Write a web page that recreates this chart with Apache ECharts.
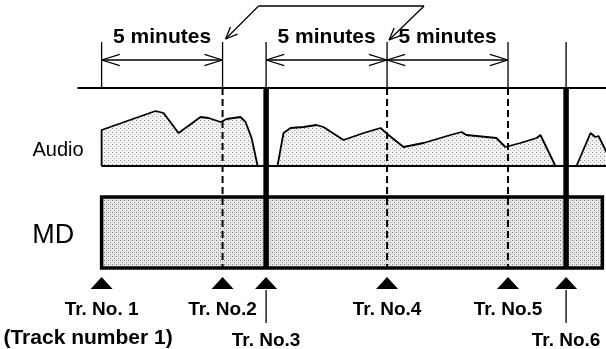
<!DOCTYPE html>
<html>
<head>
<meta charset="utf-8">
<script src="https://cdn.jsdelivr.net/npm/echarts@6/dist/echarts.min.js"></script>
<style>
  html, body { margin: 0; background: #fff; }
  #chart { width: 606px; height: 349px; }
</style>
</head>
<body>
<div id="chart"></div>
<script>
// track marks, minutes from the start of the recording
const trackTimes = [0, 5, 6.8, 11.8, 16.8, 19.2];
// start = first mark, auto = split after 5 minutes, blank = split at a silent gap
const trackKinds = ["start", "auto", "blank", "auto", "auto", "blank"];
const trackLabels = ["Tr. No. 1", "Tr. No.2", "Tr. No.3", "Tr. No.4", "Tr. No.5", "Tr. No.6"];

// the 5 minute spans shown above the timeline
const spanStarts = [0, 6.8, 11.8];
const spanEnds = [5, 11.8, 16.8];
const spanLabels = ["5 minutes", "5 minutes", "5 minutes"];

// the marks that the callout at the top points to
const calloutTracks = [1, 3];

// audio level envelope
const waveTimes = [0, 0, 2.23, 2.56, 3.18, 4.09, 4.42, 4.92, 5.17, 5.45, 5.74, 5.95, 6.2, 6.45,
  7.27, 7.52, 7.81, 8.35, 8.88, 9.17, 10.0, 10.83, 11.53, 11.86, 12.48, 13.31, 14.42, 14.88,
  15.08, 16.32, 16.69, 17.31, 17.98, 18.14, 18.76, 19.63, 20.21, 20.41, 20.54, 20.87];
const waveLevels = [0, 36, 55, 53, 33, 49, 48, 44, 47, 48, 49, 44, 28, 0,
  0, 33, 38, 39, 41, 39, 26, 33, 38, 31, 19, 23, 31, 34,
  31, 28, 19, 23, 28, 31, 0, 0, 33, 29, 30, 14];

const discEnd = 20.7;
const rowLabels = ["Audio", "MD"];
const noteLabel = "(Track number 1)";

// layout levels on the y axis (audio baseline = 0)
const LV = {
  timeline: 78, tick: 124, dim: 106, spanText: 129,
  mdTop: -31, mdBottom: -102, marker: -117,
  label: -144, labelLow: -175, leaderTop: -124, leaderBottom: -157,
  audioRow: 16, mdRow: -70, note: -172
};
const X = { lineStart: -1.0, lineEnd: 20.85, rowText: -1.8, mdText: -2.0, note: -0.56 };

const ink = "#000";
const font = "Liberation Sans";

// stipple screen like the printed original
function stipple(bg, dots) {
  const c = document.createElement("canvas");
  c.width = 4;
  c.height = 4;
  const g = c.getContext("2d");
  g.fillStyle = bg;
  g.fillRect(0, 0, 4, 4);
  dots.forEach(([x, y, col]) => {
    g.fillStyle = col;
    g.fillRect(x, y, 1, 1);
  });
  return {image: c, repeat: "repeat"};
}
const audioFill = stipple("#f2f2f2", [[0, 0, "#8a8a8a"], [2, 2, "#b4b4b4"]]);
const discFill = stipple("#e6e6e6", [[0, 0, "#7a7a7a"], [2, 2, "#9a9a9a"], [2, 0, "#c4c4c4"]]);

const chart = echarts.init(document.getElementById("chart"));

function seg(p, q, w, dash) {
  return {
    type: "line",
    shape: {x1: p[0], y1: p[1], x2: q[0], y2: q[1]},
    style: {stroke: ink, lineWidth: w, lineDash: dash || null, fill: null}
  };
}

function openHead(tip, from, len, spread) {
  const dx = from[0] - tip[0], dy = from[1] - tip[1];
  const d = Math.hypot(dx, dy);
  const ux = dx / d, uy = dy / d;
  const out = [];
  [spread, -spread].forEach(a => {
    const c = Math.cos(a), s = Math.sin(a);
    out.push(seg(tip, [tip[0] + len * (ux * c - uy * s), tip[1] + len * (ux * s + uy * c)], 1.3));
  });
  return out;
}

const option = {
  animation: false,
  grid: {left: 0, right: 0, top: 0, bottom: 0},
  xAxis: {type: "value", min: -4.2, max: 20.85, show: false},
  yAxis: {type: "value", min: -183, max: 166, show: false},
  series: [
    {
      // MD disc strip
      type: "custom",
      z: 1,
      data: [[0, discEnd]],
      renderItem(params, api) {
        const a = api.coord([api.value(0), LV.mdTop]);
        const b = api.coord([api.value(1), LV.mdBottom]);
        return {
          type: "rect",
          shape: {x: a[0], y: a[1], width: b[0] - a[0], height: b[1] - a[1]},
          style: {fill: discFill, stroke: ink, lineWidth: 3.5}
        };
      }
    },
    {
      // audio envelope
      type: "line",
      z: 2,
      data: waveTimes.map((t, i) => [t, waveLevels[i]]),
      showSymbol: false,
      lineStyle: {color: ink, width: 1.8},
      areaStyle: {color: audioFill, opacity: 1}
    },
    {
      // audio baseline and timeline
      type: "line",
      z: 3,
      data: [[waveTimes[0], 0], [waveTimes[waveTimes.length - 1], 0], null,
        [X.lineStart, LV.timeline], [X.lineEnd, LV.timeline]],
      connectNulls: false,
      showSymbol: false,
      lineStyle: {color: ink, width: 2}
    },
    {
      // track marks: ticks, split lines, leaders
      type: "custom",
      z: 4,
      data: trackTimes.map((t, i) => [t, i]),
      renderItem(params, api) {
        const t = api.value(0);
        const kind = trackKinds[api.value(1)];
        const top = api.coord([t, LV.tick]);
        const mid = api.coord([t, LV.timeline]);
        const bot = api.coord([t, LV.mdBottom]);
        const children = [seg(top, mid, 1.3)];
        if (kind === "auto") children.push(seg(mid, bot, 2, [7, 4]));
        if (kind === "blank") {
          children.push(seg(mid, bot, 5.5));
          children.push(seg(api.coord([t, LV.leaderTop]), api.coord([t, LV.leaderBottom]), 1.3));
        }
        return {type: "group", children};
      }
    },
    {
      // 5 minute dimension arrows
      type: "custom",
      z: 5,
      data: spanStarts.map((s, i) => [s, spanEnds[i], i]),
      renderItem(params, api) {
        const a = api.coord([api.value(0), LV.dim]);
        const b = api.coord([api.value(1), LV.dim]);
        const c = api.coord([(api.value(0) + api.value(1)) / 2, LV.spanText]);
        const children = [seg(a, b, 1.3)]
          .concat(openHead(a, b, 19, 0.3))
          .concat(openHead(b, a, 19, 0.3));
        children.push({
          type: "text",
          x: c[0], y: c[1],
          style: {
            text: spanLabels[api.value(2)], fill: ink, font: `bold 21px "${font}"`,
            align: "center", verticalAlign: "middle"
          }
        });
        return {type: "group", children};
      }
    },
    {
      // callout pointing at the automatic splits
      type: "custom",
      z: 5,
      data: [calloutTracks.map(i => trackTimes[i])],
      renderItem(params, api) {
        const t1 = api.coord([api.value(0), LV.tick]);
        const t2 = api.coord([api.value(1), LV.tick]);
        const tip1 = [t1[0] + 3, t1[1] - 3];
        const tip2 = [t2[0] + 2, t2[1] - 2];
        const top1 = [tip1[0] + 33, 6];
        const top2 = [tip2[0] + 35, 6];
        const children = [seg(top1, top2, 1.3), seg(top1, tip1, 1.3), seg(top2, tip2, 1.3)]
          .concat(openHead(tip1, top1, 13, 0.4))
          .concat(openHead(tip2, top2, 13, 0.4));
        return {type: "group", children};
      }
    },
    {
      // track mark triangles
      type: "scatter",
      z: 6,
      data: trackTimes.map(t => [t, LV.marker]),
      symbol: "triangle",
      symbolSize: [22, 12],
      itemStyle: {color: ink, opacity: 1}
    },
    {
      // track labels
      type: "scatter",
      z: 6,
      symbolSize: 0,
      itemStyle: {opacity: 1},
      data: trackTimes.map((t, i) => ({
        value: [t, trackKinds[i] === "blank" ? LV.labelLow : LV.label],
        name: trackLabels[i]
      })),
      label: {
        show: true, position: "inside", formatter: "{b}",
        color: ink, fontFamily: font, fontSize: 19, fontWeight: "bold"
      }
    },
    {
      // row titles and the note under the first mark
      type: "scatter",
      z: 6,
      symbolSize: 0,
      itemStyle: {opacity: 1},
      data: [
        {value: [X.rowText, LV.audioRow], name: rowLabels[0], label: {fontSize: 20}},
        {value: [X.mdText, LV.mdRow], name: rowLabels[1], label: {fontSize: 27}},
        {value: [X.note, LV.note], name: noteLabel, label: {fontSize: 21, fontWeight: "bold"}}
      ],
      label: {
        show: true, position: "inside", formatter: "{b}",
        color: ink, fontFamily: font
      }
    }
  ]
};

chart.setOption(option);
</script>
</body>
</html>
